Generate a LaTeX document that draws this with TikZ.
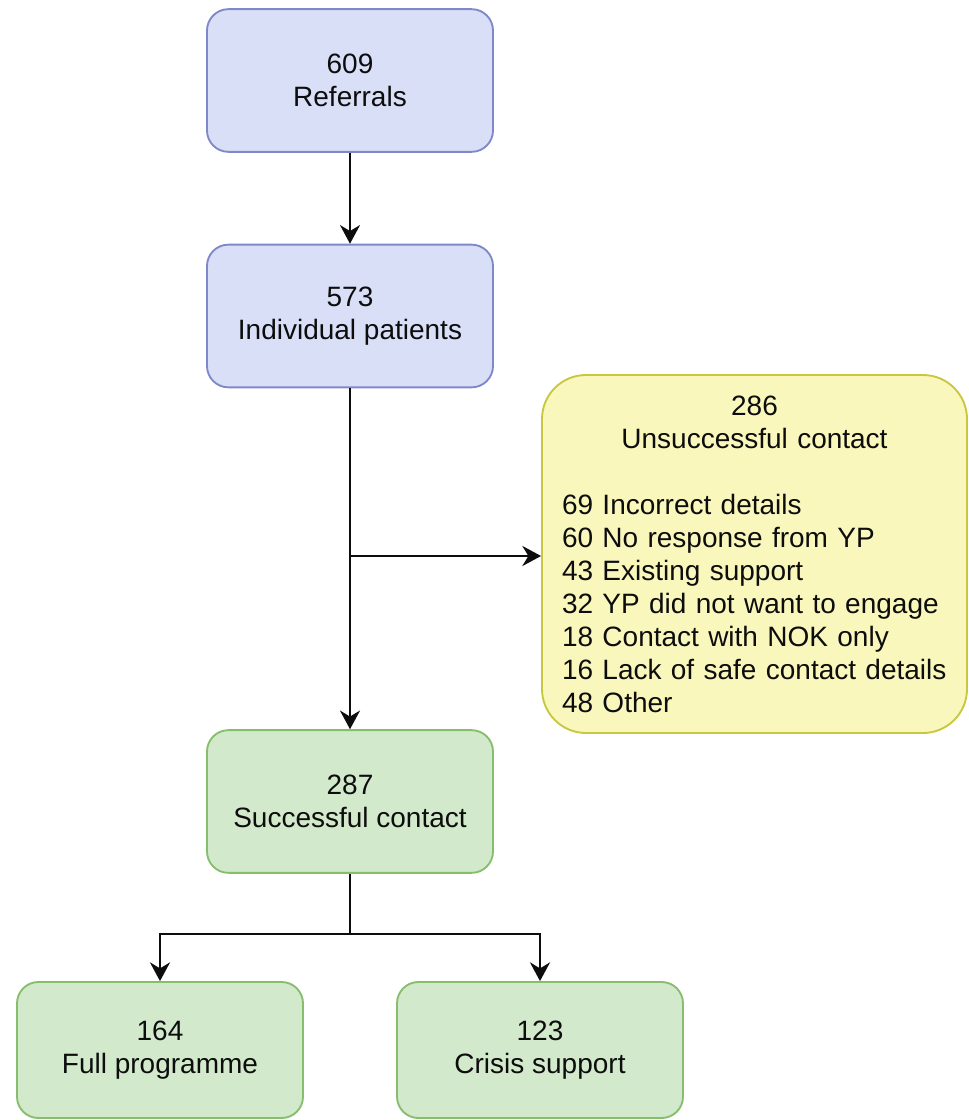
\documentclass[tikz,border=0pt]{standalone}
\usepackage{fontspec}
\setmainfont{Liberation Sans}
\usetikzlibrary{arrows.meta}
\definecolor{bluefill}{HTML}{DADFF8}
\definecolor{bluedraw}{HTML}{7F88C8}
\definecolor{yelfill}{HTML}{F9F7BC}
\definecolor{yeldraw}{HTML}{C8C840}
\definecolor{grnfill}{HTML}{D2EACB}
\definecolor{grndraw}{HTML}{86BE6E}
\tikzset{
  box/.style={rectangle, rounded corners=16pt, line width=1.4pt, align=center,
    minimum width=214.5pt, minimum height=107pt, inner sep=0pt,
    font=\fontsize{21}{24.75}\selectfont, text=black!95},
  bluebox/.style={box, fill=bluefill, draw=bluedraw},
  grnbox/.style={box, fill=grnfill, draw=grndraw},
  yelbox/.style={rectangle, rounded corners=33pt, line width=1.4pt, fill=yelfill, draw=yeldraw,
    minimum width=318.75pt, minimum height=268.5pt, inner xsep=15pt, inner ysep=0pt,
    text width=288.75pt, font=\fontsize{21}{24.75}\selectfont, text=black!95},
  conn/.style={line width=1.9pt, black!95},
  arr/.style={conn, -{Stealth[length=14pt, width=15pt, inset=4.5pt]}}
}
\begin{document}
\begin{tikzpicture}[x=0.75pt, y=-0.75pt]
\useasboundingbox (0,0) rectangle (968,1120);
\node[bluebox] (ref) at (350,80.5) {609\\Referrals};
\node[bluebox] (ind) at (350,316) {573\\Individual patients};
\node[yelbox] (unsucc) at (754.5,554) {{\centering 286\\Unsuccessful contact\par}\vspace{24.75pt}{\raggedright 69 Incorrect details\\60 No response from YP\\43 Existing support\\32 YP did not want to engage\\18 Contact with NOK only\\16 Lack of safe contact details\\48 Other\par}};
\node[grnbox] (succ) at (350,801.5) {287\\Successful contact};
\node[grnbox, minimum height=102pt] (full) at (160,1050) {164\\Full programme};
\node[grnbox, minimum height=102pt] (crisis) at (540,1050) {123\\Crisis support};
\coordinate (j) at (350,556);
\coordinate (b) at (350,934);
\draw[arr] (ref.south) -- (ind.north);
\draw[arr] (ind.south) -- (succ.north);
\draw[arr] (j) -- (unsucc.west |- j);
\draw[conn] (succ.south) -- (b);
\draw[arr] (b) -| (full.north);
\draw[arr] (b) -| (crisis.north);
\end{tikzpicture}
\end{document}
